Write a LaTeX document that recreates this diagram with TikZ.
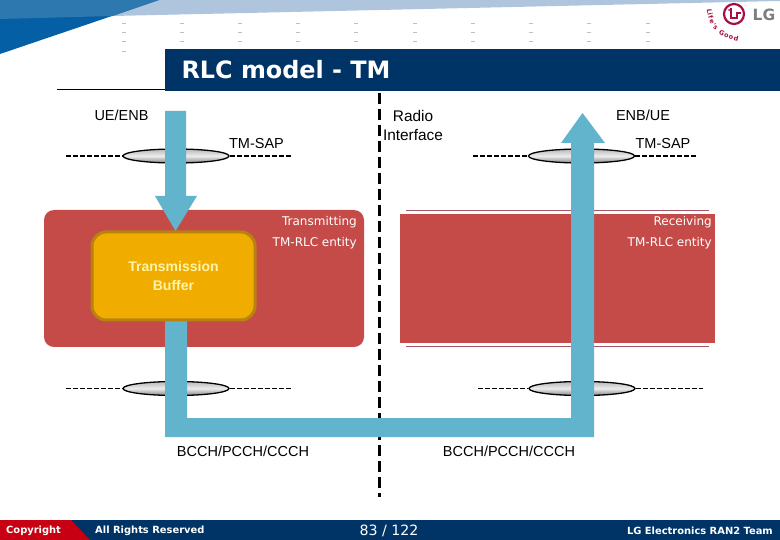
\documentclass[tikz,border=0pt]{standalone}
\usepackage{fontspec}
\setmainfont{Liberation Sans}
\newfontfamily\verdfont{DejaVu Sans}
\usepackage{xcolor}
\usepackage{tikz}
\usetikzlibrary{shapes.geometric, decorations.text}
\definecolor{navybar}{RGB}{0, 51, 102}
\definecolor{bannerdark}{RGB}{5, 95, 165}
\definecolor{bannermid}{RGB}{45, 120, 175}
\definecolor{bannerlight}{RGB}{175, 197, 222}
\definecolor{entityred}{RGB}{196, 75, 72}
\definecolor{rosekant}{RGB}{165, 85, 100}
\definecolor{flowteal}{RGB}{98, 179, 204}
\definecolor{bufferfill}{RGB}{240, 173, 0}
\definecolor{bufferedge}{RGB}{184, 130, 16}
\definecolor{bufferfont}{RGB}{255, 244, 170}
\definecolor{footred}{RGB}{200, 0, 20}
\definecolor{lgred}{RGB}{165, 15, 70}
\definecolor{lggray}{RGB}{125, 125, 130}
\tikzset{
  label/.style={font=\fontsize{14.5}{16}\selectfont, inner sep=0pt},
  entitylabel/.style={font=\verdfont\fontsize{12}{14}\selectfont, text=white, inner sep=0pt, anchor=east},
  footlabel/.style={font=\verdfont\bfseries\fontsize{9.9}{11}\selectfont, text=white, inner sep=0pt},
  sapline/.style={line width=1.3pt, dash pattern=on 5pt off 2pt},
  sapoval/.style={ellipse, draw, line width=1.3pt, minimum width=106pt, minimum height=14pt, inner sep=0pt,
    top color=gray!55, bottom color=gray!95, middle color=gray!15},
  radioline/.style={line width=2.6pt, dash pattern=on 11pt off 5pt},
}
\begin{document}
\begin{tikzpicture}[x=1pt, y=-1pt]
\useasboundingbox (0,0) rectangle (780,540);
\fill[bannerlight] (113,16) -- (159,0) -- (780,0) -- (780,1) -- cycle;
\fill[bannerdark] (0,0) -- (159,0) -- (0,54) -- cycle;
\fill[bannermid] (0,0) -- (159,0) -- (113,16) -- (0,19) -- cycle;
\foreach \xx in {124,182,240,298,356,415,473,531,589,648}
  \foreach \yy in {23,32,41}
    \draw[black!25] (\xx-2,\yy) -- (\xx+2,\yy);
\draw[black!25] (122,51) -- (126,51);
\node[circle, draw=lgred, line width=2.2pt, fill=white, minimum size=20pt, inner sep=0pt] (lgmark) at (734,14) {};
\draw[lgred, line width=1.4pt] (731,8) -- (731,18) -- (737,18) -- (737,13) -- (741,13);
\fill[lgred] (729,10) circle (1pt);
\node[font=\verdfont\bfseries\fontsize{15.5}{17}\selectfont, text=lggray, inner sep=0pt] (lgname) at (764,15) {LG};
\path[decorate, decoration={text along path, text align=fit to path, raise=0pt,
  text={|\verdfont\bfseries\fontsize{6.5}{7}\selectfont\color{lgred}|Life's Good}}]
  (707,9) .. controls (708,28) and (720,38) .. (738,41);
\fill[navybar] (165,49) rectangle (780,91);
\draw[black] (57,89.5) -- (165,89.5);
\node[font=\verdfont\bfseries\fontsize{23.9}{26}\selectfont, text=white, inner sep=0pt] (title) at (286,69.5) {RLC model - TM};
\draw[radioline] (379.5,93) -- (379.5,497);
\node[label] (uenb) at (121.5,115) {UE/ENB};
\node[label] (enbue) at (643,115) {ENB/UE};
\node[label] (sapleft) at (256.5,144) {TM-SAP};
\node[label] (sapright) at (663,144) {TM-SAP};
\node[label, font=\fontsize{15.4}{19}\selectfont, align=center, anchor=north] (radio) at (413,110) {Radio\\Interface};
\node[sapoval] (ovaltl) at (176,156) {};
\node[sapoval] (ovaltr) at (581.5,156) {};
\node[sapoval] (ovalbl) at (176,388.5) {};
\node[sapoval] (ovalbr) at (582,388.5) {};
\coordinate (endtla) at (66,156);
\coordinate (endtlb) at (291,156);
\coordinate (endtra) at (473,156);
\coordinate (endtrb) at (698,156);
\coordinate (endbla) at (66,388.5);
\coordinate (endblb) at (291,388.5);
\coordinate (endbra) at (478,388.5);
\coordinate (endbrb) at (703,388.5);
\draw[sapline] (endtla) -- (ovaltl);
\draw[sapline] (ovaltl) -- (endtlb);
\draw[sapline] (endtra) -- (ovaltr);
\draw[sapline] (ovaltr) -- (endtrb);
\draw[sapline] (endbla) -- (ovalbl);
\draw[sapline] (ovalbl) -- (endblb);
\draw[sapline] (endbra) -- (ovalbr);
\draw[sapline] (ovalbr) -- (endbrb);
\fill[entityred, rounded corners=10pt] (44,210) rectangle (364,347);
\fill[entityred] (400,214) rectangle (715,343);
\draw[rosekant] (406,210.5) -- (709,210.5);
\draw[rosekant] (406,346) -- (709,346);
\fill[flowteal] (165,111) -- (186,111) -- (186,196) -- (197,196) -- (175.5,231) -- (155,196) -- (165,196) -- cycle;
\fill[flowteal] (165,300) -- (187,300) -- (187,418) -- (571,418) -- (571,143) -- (561,143) -- (582.5,113) -- (605,143) -- (594,143) -- (594,437) -- (165,437) -- cycle;
\node[draw=bufferedge, line width=3pt, fill=bufferfill, rounded corners=14pt, minimum width=163pt, minimum height=88pt, inner sep=0pt,
  font=\bfseries\fontsize{14}{19}\selectfont, text=bufferfont, align=center] (buffer) at (173.5,276) {Transmission\\Buffer};
\node[entitylabel] (txname) at (357,222.5) {Transmitting};
\node[entitylabel] (txentity) at (357,243.5) {TM-RLC entity};
\node[entitylabel] (rxname) at (712,222.5) {Receiving};
\node[entitylabel] (rxentity) at (712,243.5) {TM-RLC entity};
\node[label] (chanleft) at (243,451) {BCCH/PCCH/CCCH};
\node[label] (chanright) at (509,451) {BCCH/PCCH/CCCH};
\fill[navybar] (0,520) rectangle (780,540);
\fill[footred] (0,520) -- (71,520) -- (90,540) -- (0,540) -- cycle;
\node[footlabel, anchor=west] (copyright) at (6,530.5) {Copyright};
\node[footlabel, anchor=west] (rights) at (95,530.5) {All Rights Reserved};
\node[footlabel, font=\verdfont\fontsize{14.2}{16}\selectfont] (pageno) at (389,530.5) {83 / 122};
\node[footlabel, anchor=east] (team) at (773,530.5) {LG Electronics RAN2 Team};
\end{tikzpicture}
\end{document}
